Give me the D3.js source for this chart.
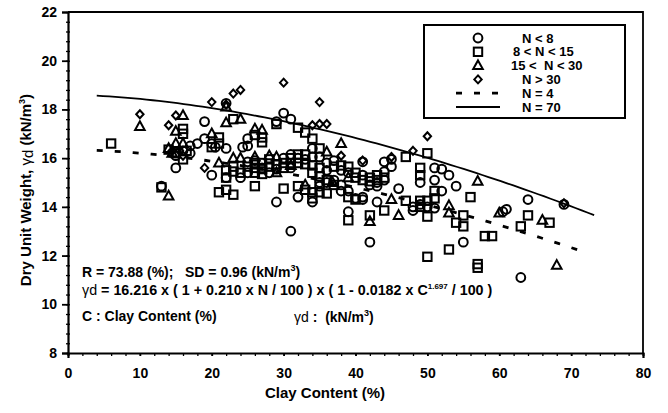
<!DOCTYPE html>
<html>
<head>
<meta charset="utf-8">
<script src="https://cdn.jsdelivr.net/npm/d3@7"></script>
<style>
  body { margin: 0; background: #fff; }
  svg text { font-family: "Liberation Sans", Arial, sans-serif; font-weight: bold; fill: #000; }
</style>
</head>
<body>
<svg id="chart" width="668" height="413"></svg>
<script>
// Axis tick values
const xTicks = [0, 10, 20, 30, 40, 50, 60, 70, 80];
const yTicks = [8, 10, 12, 14, 16, 18, 20, 22];

// Measured points: [clay content (%), dry unit weight (kN/m3)]
const nBelow8 = [
  [13,14.85],[15,15.6],[15,16.1],[16,16.3],[17,16.5],[17,16.2],[18,16.6],[19,17.5],[19,16.8],[20,16.6],
  [20,15.3],[20.5,16.45],[22,16.4],[22,15.2],[24,15.2],[24.3,16.45],[25,16.8],[25,16.5],[25,15.85],[25,15.4],
  [26,15.9],[27,15.6],[28,15.4],[29,17.5],[29,14.2],[29,15.55],[30,17.85],[30,16.0],[31,17.6],[31,15.6],
  [31,16.15],[31,13.0],[32,16.0],[32,14.4],[33,15.95],[34,16.4],[34,16.05],[34,14.2],[35,16.05],[35,15.0],
  [35,14.85],[36,15.8],[36,15.5],[36,15.0],[37,15.9],[37,15.1],[38,15.5],[38,14.65],[38,14.9],[39,15.4],
  [39,14.65],[39,13.8],[40,14.35],[41,14.3],[41,14.4],[41,15.3],[41,15.85],[42,14.9],[42,12.55],[43,14.2],
  [43,15.0],[43,14.85],[44,15.45],[44,15.85],[44,15.1],[45,15.65],[45,15.95],[46,14.75],[48,14.0],[48,13.85],
  [49,15.0],[49,14.1],[50,14.0],[51,15.6],[51,15.1],[51,13.95],[52,15.55],[52,14.65],[53,15.3],[54,14.85],
  [55,12.55],[60.5,13.8],[61,13.9],[63,11.1],[64,14.3],[69,14.1],[22,18.25]
];
const n8to15 = [
  [6,16.6],[13,14.8],[14,16.35],[15,16.2],[16,15.95],[16.5,16.3],[16,17.2],[16,17.0],[20,16.45],[21,16.85],
  [21,16.6],[21,14.6],[22,14.7],[22,15.5],[22,15.2],[23,17.6],[23,15.45],[23,15.65],[23,14.5],[24,15.4],
  [25,15.65],[26,16.95],[26,15.8],[26,15.6],[26,15.4],[26,14.85],[27,16.85],[27,16.65],[27,15.8],[27,15.55],
  [27,15.35],[28,15.95],[28,15.65],[29,17.4],[29,15.75],[30,15.8],[30,15.6],[30,14.75],[31,16.0],[31,15.8],
  [32,17.25],[32,16.15],[32,15.8],[32,14.85],[33,17.05],[33,16.15],[33,15.75],[33,14.7],[34,16.8],[34,15.7],
  [34,15.4],[34,14.6],[34,14.35],[35,16.4],[35,15.6],[35,15.25],[35,14.6],[36,15.1],[36,14.55],[37,15.65],
  [37,14.9],[38,15.7],[39,15.65],[39,14.4],[39,13.45],[40,15.4],[40,15.2],[40,14.3],[41,15.1],[42,15.05],
  [42,15.2],[42,13.65],[43,15.1],[43,15.3],[44,13.85],[44,15.2],[47,16.05],[47,14.25],[49,15.6],[49,15.3],
  [49,14.25],[49,14.0],[50,16.2],[50,14.25],[50,13.6],[50,11.95],[51,14.65],[51,14.35],[53,12.25],[54,13.35],
  [55,13.65],[55,13.2],[56,14.4],[57,11.65],[57,11.5],[58,12.8],[59,12.8],[63,13.2],[64,13.65],[67,13.35]
];
const n15to30 = [
  [10,17.3],[14,14.45],[14,16.4],[14.5,16.2],[15,16.6],[15,17.1],[16,16.6],[16,17.75],[20,17.0],[21,15.8],
  [22,18.1],[22,17.45],[23,16.0],[24,16.0],[24,17.6],[26,17.2],[26,16.05],[27,17.15],[28,16.1],[29,16.05],
  [29,15.4],[31,15.7],[33,14.9],[36,16.25],[36.8,15.0],[38,16.6],[39,15.2],[42,13.4],[45,14.3],[46,13.65],
  [53,14.05],[53,13.75],[57,15.05],[60,13.75],[66,13.45],[68,11.6]
];
const nAbove30 = [
  [10,17.8],[14,17.35],[15,17.75],[14.5,16.3],[15.5,16.3],[16,16.1],[19,15.6],[20,18.3],[22,18.2],[23,18.65],
  [24,18.8],[30,19.1],[34,17.35],[35,17.4],[36,17.4],[35,18.3],[38,16.1],[41,15.9],[45,16.05],[48,16.3],
  [50,16.9],[69,14.15]
];

// Fitted relation: yd = A (1 + B N / 100)(1 - K C^P / 100)
const fitA = 16.216, fitB = 0.210, fitK = 0.0182, fitP = 1.697;
const curveN = [4, 70];
const curveRange = [[4, 71.7], [4, 73.2]];

const svg = d3.select("#chart");
const plotL = 68, plotR = 643, plotT = 12, plotB = 353;
const x = d3.scaleLinear().domain([0, 80]).range([plotL, plotR]);
const y = d3.scaleLinear().domain([8, 22]).range([plotB, plotT]);
const font = '"Liberation Sans", Arial, sans-serif';

// Plot frame (top and right edges)
svg.append("path")
  .attr("d", `M${plotL},${plotT}H${plotR}V${plotB}`)
  .attr("fill", "none").attr("stroke", "#000").attr("stroke-width", 1.8);

// Minor ticks
const xMinor = svg.append("g").attr("transform", `translate(0,${plotB})`)
  .call(d3.axisBottom(x).tickValues(d3.range(0, 80.01, 2)).tickSize(3).tickFormat(""));
xMinor.select(".domain").remove();
const yMinor = svg.append("g").attr("transform", `translate(${plotL},0)`)
  .call(d3.axisLeft(y).tickValues(d3.range(8, 22.01, 0.4)).tickSize(3).tickFormat(""));
yMinor.select(".domain").remove();
svg.selectAll("g line").attr("stroke", "#000").attr("stroke-width", 1.3);
yMinor.selectAll("line").attr("x2", 2).attr("x1", -2);

// Major axes
const xAxis = svg.append("g").attr("transform", `translate(0,${plotB})`)
  .call(d3.axisBottom(x).tickValues(xTicks).tickSize(5).tickPadding(10));
const yAxis = svg.append("g").attr("transform", `translate(${plotL},0)`)
  .call(d3.axisLeft(y).tickValues(yTicks).tickSize(6).tickPadding(5));
[xAxis, yAxis].forEach(g => {
  g.select(".domain").attr("stroke", "#000").attr("stroke-width", 2.2);
  g.selectAll(".tick line").attr("stroke", "#000").attr("stroke-width", 1.8);
  g.selectAll(".tick text").style("font-size", "14px").style("font-weight", "bold")
    .style("font-family", font).attr("fill", "#000");
});
xAxis.selectAll(".tick line").attr("y2", 3);

// Axis titles
svg.append("text").attr("x", 325).attr("y", 398).attr("text-anchor", "middle")
  .style("font-size", "15px").text("Clay Content (%)");
const yt = svg.append("text").attr("transform", "translate(31,190) rotate(-90)")
  .attr("text-anchor", "middle").style("font-size", "15px");
yt.append("tspan").text("Dry Unit Weight, ");
yt.append("tspan").style("font-weight", "normal").text("γ");
yt.append("tspan").style("font-weight", "normal").attr("dy", 2).text("d");
yt.append("tspan").attr("dy", -2).text(" (kN/m");
yt.append("tspan").attr("dy", -6).style("font-size", "9px").text("3");
yt.append("tspan").attr("dy", 6).text(")");

// Model curves
const line = d3.line().x(d => x(d[0])).y(d => y(d[1]));
function fitCurve(n, c0, c1) {
  return d3.range(c0, c1 + 0.001, (c1 - c0) / 80)
    .map(c => [c, fitA * (1 + fitB * n / 100) * (1 - fitK * Math.pow(c, fitP) / 100)]);
}
svg.append("path").datum(fitCurve(curveN[0], ...curveRange[0])).attr("d", line)
  .attr("fill", "none").attr("stroke", "#000").attr("stroke-width", 2.8).attr("stroke-dasharray", "6,12");
svg.append("path").datum(fitCurve(curveN[1], ...curveRange[1])).attr("d", line)
  .attr("fill", "none").attr("stroke", "#000").attr("stroke-width", 1.8);

// Marker shapes
const shapes = {
  circle: g => g.append("circle").attr("r", 4.4),
  square: g => g.append("rect").attr("x", -4.2).attr("y", -4.2).attr("width", 8.4).attr("height", 8.4),
  triangle: g => g.append("path").attr("d", "M0,-5.2L4.8,3.5L-4.8,3.5Z"),
  diamond: g => g.append("path").attr("d", "M0,-4L3.7,0L0,4L-3.7,0Z")
};
function drawSeries(data, shape) {
  const g = svg.append("g");
  data.forEach(d => {
    const m = g.append("g").attr("transform", `translate(${x(d[0])},${y(d[1])})`);
    shapes[shape](m).attr("fill", "none").attr("stroke", "#000").attr("stroke-width", 2);
  });
}
drawSeries(n8to15, "square");
drawSeries(nBelow8, "circle");
drawSeries(n15to30, "triangle");
drawSeries(nAbove30, "diamond");

// Legend
const lg = svg.append("g");
lg.append("rect").attr("x", 424).attr("y", 25).attr("width", 201).attr("height", 93)
  .attr("fill", "#fff").attr("stroke", "#000").attr("stroke-width", 2);
const legendRows = [
  { shape: "circle", label: "N < 8", tx: 522 },
  { shape: "square", label: "8 < N < 15", tx: 513 },
  { shape: "triangle", label: "15 <  N < 30", tx: 511 },
  { shape: "diamond", label: "N > 30", tx: 522 },
  { line: "dash", label: "N = 4", tx: 522 },
  { line: "solid", label: "N = 70", tx: 522 }
];
legendRows.forEach((r, i) => {
  const cy = 38 + i * 13.8;
  if (r.shape) {
    const m = lg.append("g").attr("transform", `translate(478,${cy})`);
    shapes[r.shape](m).attr("fill", "none").attr("stroke", "#000").attr("stroke-width", 2);
  } else if (r.line === "dash") {
    lg.append("line").attr("x1", 456).attr("x2", 500).attr("y1", cy).attr("y2", cy)
      .attr("stroke", "#000").attr("stroke-width", 2.8).attr("stroke-dasharray", "6,12");
  } else {
    lg.append("line").attr("x1", 456).attr("x2", 500).attr("y1", cy).attr("y2", cy)
      .attr("stroke", "#000").attr("stroke-width", 1.8);
  }
  lg.append("text").attr("x", r.tx).attr("y", cy + 4.5)
    .style("font-size", "13px").style("white-space", "pre").text(r.label);
});

// Fit statistics and equation
svg.append("text").attr("x", 82).attr("y", 277).style("font-size", "14px").text("R = 73.88 (%);");
const t1 = svg.append("text").attr("x", 185).attr("y", 277).style("font-size", "14px");
t1.append("tspan").text("SD = 0.96 (kN/m");
t1.append("tspan").attr("dy", -6).style("font-size", "9px").text("3");
t1.append("tspan").attr("dy", 6).text(")");

const t2 = svg.append("text").attr("x", 82).attr("y", 295).style("font-size", "14.3px");
t2.append("tspan").style("font-weight", "normal").text("γ");
t2.append("tspan").style("font-weight", "normal").text("d");
t2.append("tspan").text(" = 16.216 x ( 1 + 0.210 x N / 100 ) x ( 1 - 0.0182 x C");
t2.append("tspan").attr("dy", -6).style("font-size", "8px").text("1.697");
t2.append("tspan").attr("dy", 6).text(" / 100 )");

svg.append("text").attr("x", 82).attr("y", 321).style("font-size", "14px").text("C : Clay Content (%)");
const t4 = svg.append("text").attr("x", 294).attr("y", 322).style("font-size", "14px")
  .style("white-space", "pre");
t4.append("tspan").style("font-weight", "normal").text("γ");
t4.append("tspan").style("font-weight", "normal").text("d");
t4.append("tspan").text(" :  (kN/m");
t4.append("tspan").attr("dy", -6).style("font-size", "9px").text("3");
t4.append("tspan").attr("dy", 6).text(")");
</script>
</body>
</html>
